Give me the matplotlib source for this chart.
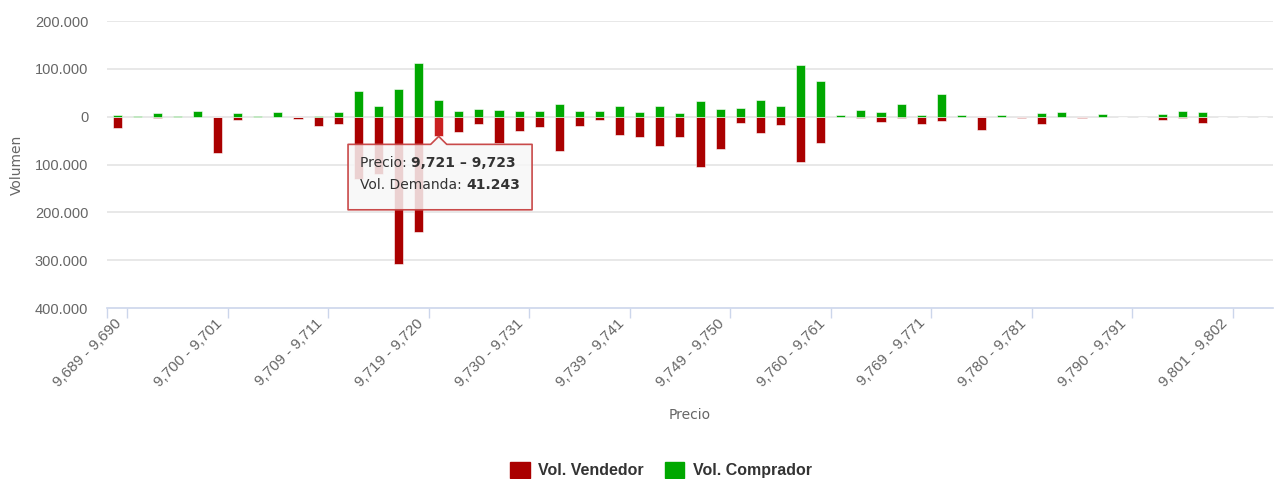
import matplotlib.pyplot as plt
from matplotlib.patches import Polygon, Patch
from matplotlib.ticker import FixedLocator, FuncFormatter
from matplotlib.transforms import ScaledTranslation

# Volume per price bin (58 bins)
vendedor = [
    23000, 0, 3000, 0, 0, 77000, 6000, 0, 0, 5000,
    19000, 16000, 130000, 120000, 307000, 242000, 41243, 32000, 16000, 55000,
    29000, 22000, 71000, 20000, 6000, 38000, 43000, 62000, 43000, 106000,
    67000, 12500, 35000, 17000, 94000, 56000, 0, 2000, 12000, 3000,
    15000, 10000, 0, 28000, 0, 2000, 15000, 0, 2000, 0,
    0, 0, 7000, 3000, 13000, 0, 0, 0,
]
comprador = [
    3000, 1000, 7000, 500, 12000, 0, 7000, 500, 9000, 0,
    1000, 10500, 54000, 23000, 57000, 113000, 35000, 12000, 17000, 13000,
    12000, 12000, 27000, 12000, 12000, 22000, 10000, 22000, 7000, 33000,
    17000, 19000, 35000, 22000, 109000, 74000, 3000, 14000, 10000, 26000,
    4000, 48000, 4000, 0, 3000, 0, 7000, 10000, 0, 6000,
    0, 0, 6000, 11000, 10000, 0, 0, 0,
]

tick_pos = [0, 5, 10, 15, 20, 25, 30, 35, 40, 45, 50, 55]
tick_labels = [
    "9,689 - 9,690", "9,700 - 9,701", "9,709 - 9,711", "9,719 - 9,720",
    "9,730 - 9,731", "9,739 - 9,741", "9,749 - 9,750", "9,760 - 9,761",
    "9,769 - 9,771", "9,780 - 9,781", "9,790 - 9,791", "9,801 - 9,802",
]

hover_idx = 16
hover_price = "9,721 – 9,723"
hover_value = "41.243"

RED = "#aa0000"
GREEN = "#00a800"
GRID = "#e6e6e6"
AXIS = "#ccd6eb"
TXT = "#666666"

W, H = 1274, 479
fig = plt.figure(figsize=(W / 100, H / 100), dpi=100)
ax = fig.add_axes([107 / W, (H - 308) / H, (1273 - 107) / W, (308 - 21) / H])

n = len(vendedor)
x = list(range(n))
red_colors = [RED] * n
red_colors[hover_idx] = "#c92020"

ax.bar(x, [-v for v in vendedor], width=0.45, color=red_colors,
       edgecolor="white", linewidth=0.4, zorder=3)
ax.bar(x, comprador, width=0.45, color=GREEN,
       edgecolor="white", linewidth=0.4, zorder=3)

ax.set_xlim(-0.5, n - 0.5)
ax.set_ylim(-400000, 200000)

ax.set_yticks([-400000, -300000, -200000, -100000, 0, 100000, 200000])
ax.yaxis.set_major_formatter(
    FuncFormatter(lambda v, p: "0" if v == 0 else f"{abs(v):,.0f}".replace(",", "."))
)
ax.tick_params(axis="y", length=0, pad=13.5, labelsize=10.5, labelcolor=TXT)
for lab in ax.get_yticklabels():
    lab.set_fontfamily("Liberation Sans")

for v in [-300000, -200000, -100000, 0, 100000, 200000]:
    ax.axhline(v, color=GRID, linewidth=1.3, zorder=1)

for s in ["top", "right", "left"]:
    ax.spines[s].set_visible(False)
ax.spines["bottom"].set_color(AXIS)
ax.spines["bottom"].set_linewidth(1.2)

# tick marks sit at bin boundaries, labels at bin centres
ax.set_xticks([])
ax.xaxis.set_minor_locator(FixedLocator([-0.5] + [p + 0.5 for p in tick_pos]))
ax.tick_params(axis="x", which="minor", length=7.2, width=1, color=AXIS)

offset = ScaledTranslation(2 / 100, -13 / 100, fig.dpi_scale_trans)
for p, lab in zip(tick_pos, tick_labels):
    ax.text(p, 0, lab, transform=ax.get_xaxis_transform() + offset,
            rotation=45, rotation_mode="anchor", ha="right", va="center",
            fontsize=11, color=TXT, family="Liberation Sans")

fig.text(690 / W, 1 - 415 / H, "Precio", ha="center", va="center",
         fontsize=10, color=TXT, family="DejaVu Sans")
fig.text(17 / W, 1 - 165 / H, "Volumen", ha="center", va="center",
         rotation=90, fontsize=10, color=TXT, family="DejaVu Sans")

# tooltip box with pointer
px = lambda xp: (xp - 107) / 20.1 - 0.5
py = lambda yp: (117.5 - yp) * 2105
bx0, bx1 = px(348), px(532)
by0, by1 = py(145), py(210)
tip_x = hover_idx
tip_y = -vendedor[hover_idx]
verts = [
    (bx0, by0), (tip_x - 0.4, by0), (tip_x, tip_y), (tip_x + 0.4, by0),
    (bx1, by0), (bx1, by1), (bx0, by1),
]
ax.add_patch(Polygon(verts, closed=True, facecolor=(0.97, 0.97, 0.97, 0.85),
                     edgecolor="#c94a4a", linewidth=1.2, joinstyle="round",
                     zorder=5))
tt = dict(fontsize=10, color="#333333", family="DejaVu Sans", zorder=6)
t1 = ax.text(px(360), py(164), "Precio: ", ha="left", va="center", **tt)
ax.annotate(hover_price, xy=(1, 0), xycoords=t1, ha="left", va="bottom",
            weight="bold", **tt)
t2 = ax.text(px(360), py(185), "Vol. Demanda: ", ha="left", va="center", **tt)
ax.annotate(hover_value, xy=(1, 0), xycoords=t2, ha="left", va="bottom",
            weight="bold", **tt)

handles = [Patch(color=RED, label="Vol. Vendedor"),
           Patch(color=GREEN, label="Vol. Comprador")]
fig.legend(handles=handles, loc="center", bbox_to_anchor=(661 / W, 1 - 470 / H),
           ncol=2, frameon=False, handlelength=1.2, handleheight=1.2,
           handletextpad=0.55, columnspacing=1.3,
           prop={"family": "Liberation Sans", "weight": "bold", "size": 11.5},
           labelcolor="#333333")

fig.savefig("out.png", dpi=100)
